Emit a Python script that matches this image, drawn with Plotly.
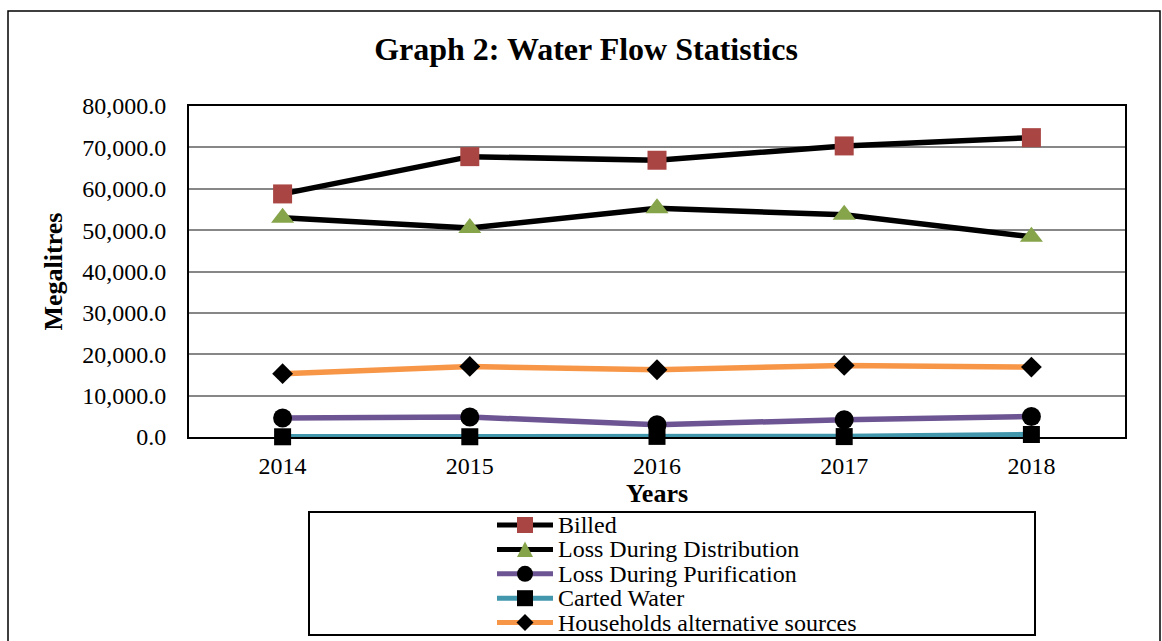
import plotly.graph_objects as go

# ---- data (megalitres per year) ----
years = ["2014", "2015", "2016", "2017", "2018"]
billed = [58750, 67760, 66890, 70350, 72350]
loss_distribution = [53000, 50500, 55300, 53700, 48400]
loss_purification = [4600, 4830, 2970, 4180, 4970]
carted_water = [50, 60, 150, 100, 600]
households_alt = [15300, 17050, 16250, 17300, 16900]

series_names = [
    "Billed",
    "Loss During Distribution",
    "Loss During Purification",
    "Carted Water",
    "Households alternative sources",
]
series_values = [billed, loss_distribution, loss_purification, carted_water, households_alt]

# ---- styling ----
line_colors = ["#000000", "#000000", "#6C5592", "#4397AD", "#F79646"]
marker_colors = ["#A94643", "#86A44A", "#000000", "#000000", "#000000"]
marker_symbols = ["square", "triangle-up", "circle", "square", "diamond"]
marker_sizes = [19, 20, 19, 17, 16]
line_widths = [5.5, 5.5, 5.5, 5.5, 5.5]

SERIF = "Liberation Serif, Times New Roman, serif"
W, H = 1162, 641
L, R, T, B = 189, 37, 106, 204
PW, PH = W - L - R, H - T - B


def px_x(px):
    return (px - L) / PW


def px_y(py):
    return (H - B - py) / PH


fig = go.Figure()
for name, vals, lc, mc, sym, ms, lw in zip(series_names, series_values, line_colors,
                                           marker_colors, marker_symbols, marker_sizes,
                                           line_widths):
    fig.add_trace(go.Scatter(
        x=years, y=vals, name=name, mode="lines+markers",
        line=dict(color=lc, width=lw),
        marker=dict(color=mc, symbol=sym, size=ms, line=dict(width=0)),
        showlegend=False,
        cliponaxis=False,
    ))

shapes = []
annotations = []

# outer frame
shapes.append(dict(type="rect", xref="paper", yref="paper",
                   x0=px_x(8), x1=px_x(1160), y0=px_y(646), y1=px_y(11),
                   line=dict(color="#000000", width=1.5), layer="below"))

# legend frame
shapes.append(dict(type="rect", xref="paper", yref="paper",
                   x0=px_x(309), x1=px_x(1035), y0=px_y(635), y1=px_y(512),
                   line=dict(color="#000000", width=2), layer="below"))

# legend entries
row0, row_gap = 525, 24.4
sx0, sx1, mx, tx = 497, 553, 525, 556
for i, (name, lc, mc, sym) in enumerate(zip(series_names, line_colors, marker_colors,
                                            marker_symbols)):
    cy = row0 + i * row_gap
    shapes.append(dict(type="line", xref="paper", yref="paper",
                       x0=px_x(sx0), x1=px_x(sx1), y0=px_y(cy), y1=px_y(cy),
                       line=dict(color=lc, width=5)))
    h = 8
    if sym == "square":
        shapes.append(dict(type="rect", xref="paper", yref="paper",
                           x0=px_x(mx - h), x1=px_x(mx + h), y0=px_y(cy + h), y1=px_y(cy - h),
                           fillcolor=mc, line=dict(width=0)))
    elif sym == "circle":
        shapes.append(dict(type="circle", xref="paper", yref="paper",
                           x0=px_x(mx - 8), x1=px_x(mx + 8), y0=px_y(cy + 8), y1=px_y(cy - 8),
                           fillcolor=mc, line=dict(width=0)))
    elif sym == "triangle-up":
        path = "M {} {} L {} {} L {} {} Z".format(
            px_x(mx - 8), px_y(cy + 7.5), px_x(mx + 8), px_y(cy + 7.5), px_x(mx), px_y(cy - 8))
        shapes.append(dict(type="path", xref="paper", yref="paper", path=path,
                           fillcolor=mc, line=dict(width=0)))
    elif sym == "diamond":
        path = "M {} {} L {} {} L {} {} L {} {} Z".format(
            px_x(mx - 8.5), px_y(cy), px_x(mx), px_y(cy - 8.5),
            px_x(mx + 8.5), px_y(cy), px_x(mx), px_y(cy + 8.5))
        shapes.append(dict(type="path", xref="paper", yref="paper", path=path,
                           fillcolor=mc, line=dict(width=0)))
    annotations.append(dict(xref="paper", yref="paper", x=px_x(tx), y=px_y(cy),
                            xanchor="left", yanchor="middle", showarrow=False,
                            text=name, font=dict(family=SERIF, size=24, color="#000000")))

fig.update_layout(
    width=W, height=H,
    margin=dict(l=L, r=R, t=T, b=B, autoexpand=False),
    paper_bgcolor="#ffffff", plot_bgcolor="#ffffff",
    font=dict(family=SERIF, color="#000000"),
    title=dict(text="Graph 2: Water Flow Statistics", x=586 / W, xref="container",
               xanchor="center", y=1 - 49 / H, yref="container", yanchor="middle",
               font=dict(family=SERIF, size=32, color="#000000", weight="bold")),
    xaxis=dict(type="category", categoryorder="array", categoryarray=years,
               range=[-0.5, 4.5], showgrid=False, zeroline=False,
               showline=True, linecolor="#000000", linewidth=2, mirror=True,
               layer="below traces",
               ticks="", ticklabelstandoff=6,
               tickfont=dict(family=SERIF, size=24, color="#000000"),
               title=dict(text="Years", standoff=2,
                          font=dict(family=SERIF, size=26, color="#000000", weight="bold"))),
    yaxis=dict(range=[0, 80000], dtick=10000, tickformat=",.1f",
               showgrid=True, gridcolor="#878787", gridwidth=1.5, zeroline=False,
               showline=True, linecolor="#000000", linewidth=2, mirror=True,
               layer="below traces",
               ticks="", ticklabelstandoff=16,
               tickfont=dict(family=SERIF, size=24, color="#000000"),
               title=dict(text="Megalitres", standoff=12,
                          font=dict(family=SERIF, size=26, color="#000000", weight="bold"))),
    shapes=shapes,
    annotations=annotations,
)

fig.write_html("out.html")
